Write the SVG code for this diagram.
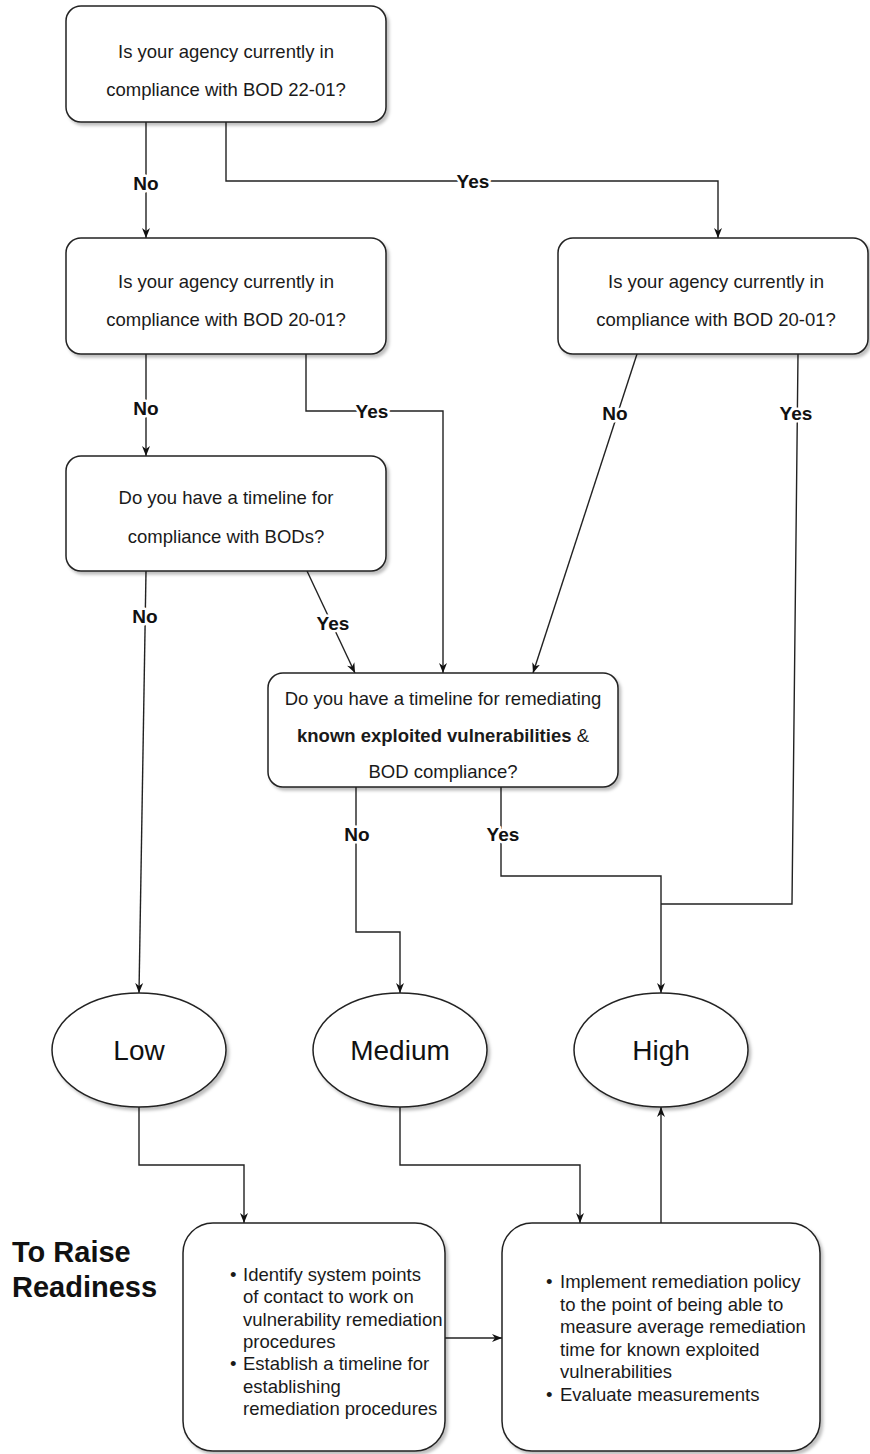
<svg xmlns="http://www.w3.org/2000/svg" width="870" height="1454" viewBox="0 0 870 1454">
<defs>
  <filter id="sh" x="-10%" y="-10%" width="125%" height="125%">
    <feDropShadow dx="2.5" dy="3" stdDeviation="1.5" flood-color="#000" flood-opacity="0.25"/>
  </filter>
  <marker id="arr" viewBox="0 0 10 10" refX="10" refY="5" markerWidth="10" markerHeight="10" markerUnits="userSpaceOnUse" orient="auto">
    <path d="M0,1 L10,5 L0,9 L3,5 Z" fill="#111"/>
  </marker>
</defs>
<style>
  .box { fill: #fff; stroke: #222; stroke-width: 1.5; filter: url(#sh); }
  .t { font-family: "Liberation Sans", Arial, sans-serif; font-size: 18.5px; fill: #1a1a1a; text-anchor: middle; }
  .tb { font-weight: bold; }
  .bl { font-family: "Liberation Sans", Arial, sans-serif; font-size: 18.5px; fill: #1a1a1a; }
  .big { font-family: "Liberation Sans", Arial, sans-serif; font-size: 28px; fill: #111; text-anchor: middle; }
  .lbl { font-family: "Liberation Sans", Arial, sans-serif; font-size: 19px; font-weight: bold; fill: #111; text-anchor: middle; stroke: #fff; stroke-width: 5; paint-order: stroke; stroke-linejoin: round; }
  .ttl { font-family: "Liberation Sans", Arial, sans-serif; font-size: 29px; font-weight: bold; fill: #111; }
  .c { fill: none; stroke: #222; stroke-width: 1.4; }
  .ca { fill: none; stroke: #222; stroke-width: 1.4; marker-end: url(#arr); }
</style>

<g id="connectors">
  <path class="ca" d="M146,122 V238"/>
  <path class="ca" d="M226,122 V181 H718 V238"/>
  <path class="ca" d="M146,354 V456"/>
  <path class="ca" d="M306,354 V411 H443 V673"/>
  <path class="ca" d="M637,354 L533,673"/>
  <path class="c" d="M798,354 L792,904 H661"/>
  <path class="ca" d="M146,571 L139,993"/>
  <path class="ca" d="M307,571 L355,673"/>
  <path class="ca" d="M356,787 V932 H400 V993"/>
  <path class="ca" d="M501,787 V876 H661 V993"/>
  <path class="ca" d="M139,1107 V1165 H244 V1223"/>
  <path class="ca" d="M400,1107 V1165 H580 V1223"/>
  <path class="ca" d="M445,1338 H502"/>
  <path class="ca" d="M661,1223 V1107"/>
  <text class="lbl" x="146" y="190">No</text>
  <text class="lbl" x="473" y="188">Yes</text>
  <text class="lbl" x="146" y="415">No</text>
  <text class="lbl" x="372" y="418">Yes</text>
  <text class="lbl" x="615" y="420">No</text>
  <text class="lbl" x="796" y="420">Yes</text>
  <text class="lbl" x="145" y="623">No</text>
  <text class="lbl" x="333" y="630">Yes</text>
  <text class="lbl" x="357" y="841">No</text>
  <text class="lbl" x="503" y="841">Yes</text>
</g>

<g id="q1">
  <rect class="box" x="66" y="6" width="320" height="116" rx="15"/>
  <text class="t" x="226" y="58">Is your agency currently in</text>
  <text class="t" x="226" y="96">compliance with BOD 22-01?</text>
</g>

<g id="q2">
  <rect class="box" x="66" y="238" width="320" height="116" rx="15"/>
  <text class="t" x="226" y="288">Is your agency currently in</text>
  <text class="t" x="226" y="326">compliance with BOD 20-01?</text>
</g>

<g id="q3">
  <rect class="box" x="558" y="238" width="310" height="116" rx="15"/>
  <text class="t" x="716" y="288">Is your agency currently in</text>
  <text class="t" x="716" y="326">compliance with BOD 20-01?</text>
</g>

<g id="q4">
  <rect class="box" x="66" y="456" width="320" height="115" rx="15"/>
  <text class="t" x="226" y="504">Do you have a timeline for</text>
  <text class="t" x="226" y="543">compliance with BODs?</text>
</g>

<g id="q5">
  <rect class="box" x="268" y="673" width="350" height="114" rx="15"/>
  <text class="t" x="443" y="705">Do you have a timeline for remediating</text>
  <text class="t tb" x="443" y="742">known exploited vulnerabilities <tspan font-weight="normal">&amp;</tspan></text>
  <text class="t" x="443" y="778">BOD compliance?</text>
</g>

<g id="low">
  <ellipse class="box" cx="139" cy="1050" rx="87" ry="57"/>
  <text class="big" x="139" y="1060">Low</text>
</g>

<g id="medium">
  <ellipse class="box" cx="400" cy="1050" rx="87" ry="57"/>
  <text class="big" x="400" y="1060">Medium</text>
</g>

<g id="high">
  <ellipse class="box" cx="661" cy="1050" rx="87" ry="57"/>
  <text class="big" x="661" y="1060">High</text>
</g>

<g id="title">
  <text class="ttl" x="12" y="1262">To Raise</text>
  <text class="ttl" x="12" y="1297">Readiness</text>
</g>

<g id="actions-low">
  <rect class="box" x="183" y="1223" width="262" height="228" rx="30"/>
  <text class="bl" x="230" y="1281">•</text>
  <text class="bl" x="243" y="1281">Identify system points</text>
  <text class="bl" x="243" y="1303">of contact to work on</text>
  <text class="bl" x="243" y="1326">vulnerability remediation</text>
  <text class="bl" x="243" y="1348">procedures</text>
  <text class="bl" x="230" y="1370">•</text>
  <text class="bl" x="243" y="1370">Establish a timeline for</text>
  <text class="bl" x="243" y="1393">establishing</text>
  <text class="bl" x="243" y="1415">remediation procedures</text>
</g>

<g id="actions-medium">
  <rect class="box" x="502" y="1223" width="318" height="228" rx="30"/>
  <text class="bl" x="546" y="1288">•</text>
  <text class="bl" x="560" y="1288">Implement remediation policy</text>
  <text class="bl" x="560" y="1311">to the point of being able to</text>
  <text class="bl" x="560" y="1333">measure average remediation</text>
  <text class="bl" x="560" y="1356">time for known exploited</text>
  <text class="bl" x="560" y="1378">vulnerabilities</text>
  <text class="bl" x="546" y="1401">•</text>
  <text class="bl" x="560" y="1401">Evaluate measurements</text>
</g>
</svg>
